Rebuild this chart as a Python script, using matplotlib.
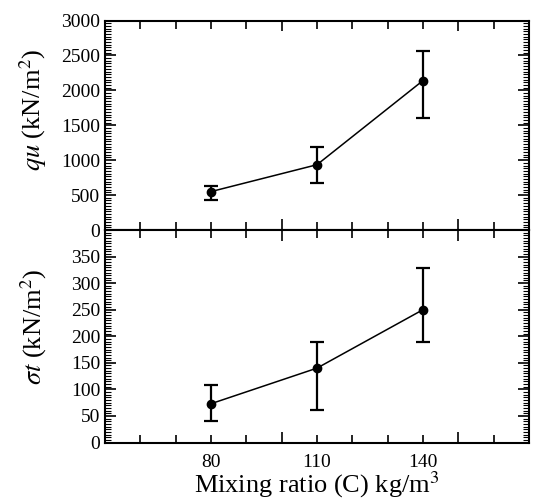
import matplotlib
matplotlib.use("Agg")
import matplotlib.pyplot as plt
from matplotlib.ticker import MultipleLocator, FixedLocator, AutoMinorLocator

plt.rcParams['font.family'] = ['Liberation Serif', 'DejaVu Serif']
plt.rcParams['mathtext.fontset'] = 'stix'

mix = [80, 110, 140]
xtick_labels = ['80', '110', '140']

qu = [550, 935, 2140]
qu_low = [430, 670, 1600]
qu_high = [630, 1195, 2565]

st = [73, 140, 250]
st_low = [40, 62, 190]
st_high = [108, 189, 329]

fig = plt.figure(figsize=(5.34, 5.03), dpi=100)
L, R = 105 / 534, 529 / 534
ax1 = fig.add_axes([L, 1 - 230 / 503, R - L, (230 - 20.5) / 503])
ax2 = fig.add_axes([L, 1 - 442.5 / 503, R - L, (442.5 - 230) / 503])


def style(ax, ymaj, yminor):
    ax.set_xlim(50, 170)
    ax.xaxis.set_major_locator(FixedLocator(mix))
    ax.xaxis.set_minor_locator(FixedLocator([60, 70, 90, 120, 130, 160]))
    ax.yaxis.set_major_locator(MultipleLocator(ymaj))
    ax.yaxis.set_minor_locator(yminor)
    ax.tick_params(axis='both', which='both', direction='in', top=True, right=True,
                   labelsize=14, width=1.2, color='black')
    ax.tick_params(axis='x', which='both', length=5.5)
    ax.tick_params(axis='y', which='major', length=8)
    ax.tick_params(axis='y', which='minor', length=4, width=0.8)
    for s in ax.spines.values():
        s.set_linewidth(1.5)
    # long ticks at 50, 100, 150
    for side in ('bottom', 'top'):
        sec = ax.secondary_xaxis(side)
        sec.set_xticks([50, 100, 150])
        sec.tick_params(direction='in', length=8, width=1.2,
                        labelbottom=False, labeltop=False)
        sec.spines[side].set_visible(False)


def draw(ax, y, lo, hi):
    err = [[v - l for v, l in zip(y, lo)], [h - v for v, h in zip(y, hi)]]
    ax.errorbar(mix, y, yerr=err, fmt='o-', color='black', markersize=6,
                linewidth=1.1, elinewidth=1.6, capsize=5, capthick=1.6, ecolor='black')


draw(ax1, qu, qu_low, qu_high)
style(ax1, 500, AutoMinorLocator(13))
ax1.set_ylim(0, 3000)
ax1.tick_params(axis='x', labelbottom=False)
ax1.set_ylabel(r'$\it{qu}$ (kN/m$^2$)', fontsize=19)
ax1.yaxis.set_label_coords(-0.133, 0.573)

draw(ax2, st, st_low, st_high)
style(ax2, 50, MultipleLocator(5))
ax2.set_ylim(0, 400)
ax2.set_yticks([0, 50, 100, 150, 200, 250, 300, 350])
ax2.set_xticks(mix, xtick_labels)
ax2.tick_params(axis='x', which='major', pad=8)
ax2.set_ylabel(r'$\it{\sigma t}$ (kN/m$^2$)', fontsize=19)
ax2.yaxis.set_label_coords(-0.133, 0.543)
ax2.set_xlabel(r'Mixing ratio (C) kg/m$^3$', fontsize=19)
ax2.xaxis.set_label_coords(0.5, -0.125)

fig.savefig('out.png', dpi=100)
